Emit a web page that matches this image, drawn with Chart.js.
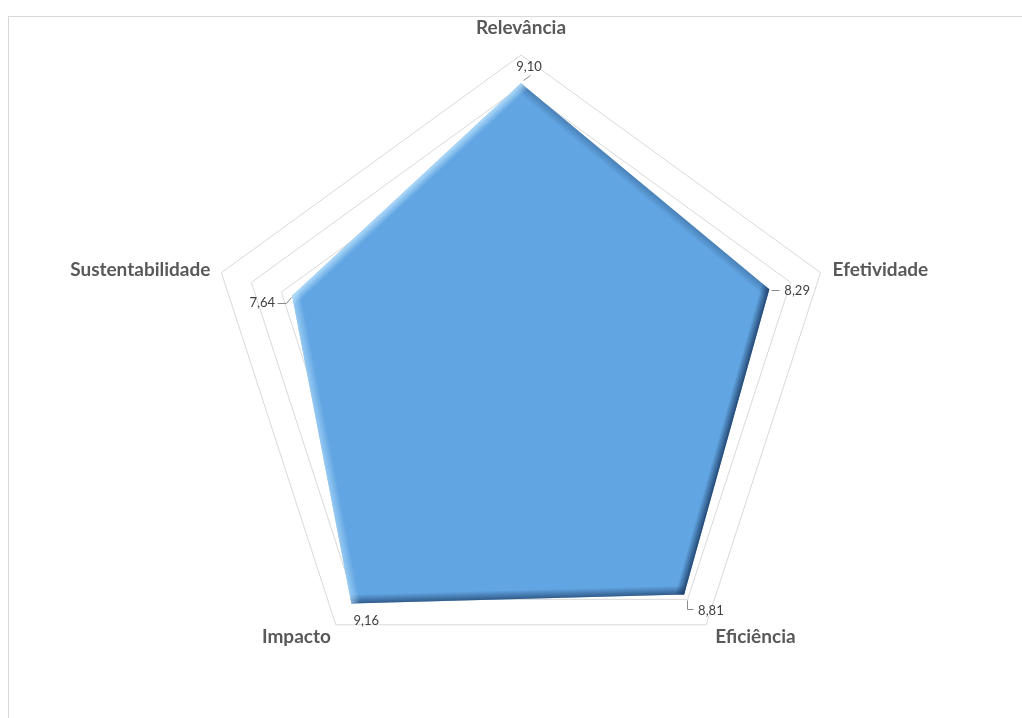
<!DOCTYPE html>
<html>
<head>
<meta charset="utf-8">
<script src="https://cdn.jsdelivr.net/npm/chart.js@4.4.1/dist/chart.umd.min.js"></script>
<style>
  html, body { margin: 0; padding: 0; background: #ffffff; }
  #wrap { position: relative; width: 1022px; height: 718px; overflow: hidden; }
  #frame { position: absolute; left: 8px; top: 16px; width: 1100px; height: 800px;
           border-left: 1px solid #d9d9d9; border-top: 1px solid #d9d9d9; }
  canvas { position: absolute; left: 0; top: 0; }
</style>
</head>
<body>
<div id="wrap">
  <div id="frame"></div>
  <canvas id="c" width="1022" height="718"></canvas>
</div>
<script>
// ---- data ----
const categories = ["Relevância", "Efetividade", "Eficiência", "Impacto", "Sustentabilidade"];
const scores = [9.10, 8.29, 8.81, 9.16, 7.64];
const scoreLabels = ["9,10", "8,29", "8,81", "9,16", "7,64"];
const scaleMin = 0;
const scaleMax = 10;
const scaleStep = 1;

// ---- styling (positions of texts relative to the scale's points) ----
const catLabelStyle = [
  { dx: 0,   dy: -27, align: "center" },
  { dx: 12,  dy: -3,  align: "left" },
  { dx: 9,   dy: 12,  align: "left" },
  { dx: -5,  dy: 12,  align: "right" },
  { dx: -11, dy: -3,  align: "right" }
];
const valLabelStyle = [
  { dx: 8,   dy: -17, align: "center", leader: [[2, -3], [9, -8]] },
  { dx: 15,  dy: 2,   align: "left",   leader: [[2, 1], [10, 1]] },
  { dx: 14,  dy: 16,  align: "left",   leader: [[3, 5], [3, 14], [9, 14]] },
  { dx: 2,   dy: 17,  align: "left",   leader: null },
  { dx: -17, dy: 7,   align: "right",  leader: [[-1, 1], [-6, 7], [-15, 7]] }
];

function polyPath(ctx, pts) {
  ctx.beginPath();
  pts.forEach((p, i) => i ? ctx.lineTo(p.x, p.y) : ctx.moveTo(p.x, p.y));
  ctx.closePath();
}

const labelsPlugin = {
  id: "customLabels",
  beforeDatasetDraw(chart) {
    const ctx = chart.ctx;
    ctx.save();
    ctx.shadowColor = "rgba(20,40,70,0.45)";
    ctx.shadowBlur = 6;
    ctx.shadowOffsetX = 2;
    ctx.shadowOffsetY = 2;
  },
  afterDatasetDraw(chart) {
    const ctx = chart.ctx;
    ctx.restore();
    // bevel: light from upper left
    const pts = chart.getDatasetMeta(0).data;
    const r = chart.scales.r;
    const L = { x: -0.8, y: -0.6 };
    const w = 9;
    ctx.save();
    polyPath(ctx, pts);
    ctx.clip();
    for (let i = 0; i < pts.length; i++) {
      const a = pts[i], b = pts[(i + 1) % pts.length];
      const ex = b.x - a.x, ey = b.y - a.y;
      const len = Math.hypot(ex, ey);
      let nx = ey / len, ny = -ex / len;
      const mx = (a.x + b.x) / 2, my = (a.y + b.y) / 2;
      if ((mx - r.xCenter) * nx + (my - r.yCenter) * ny < 0) { nx = -nx; ny = -ny; }
      const t = nx * L.x + ny * L.y;
      let col0, col1;
      if (t > 0.2) {
        const al = Math.min(0.9, t * 0.9);
        col0 = "rgba(185,225,252," + al + ")";
        col1 = "rgba(185,225,252,0)";
      } else {
        const al = Math.min(0.85, 0.3 + (-t) * 0.6);
        col0 = "rgba(25,55,95," + al + ")";
        col1 = "rgba(25,55,95,0)";
      }
      const g = ctx.createLinearGradient(mx, my, mx - nx * w, my - ny * w);
      g.addColorStop(0, col0);
      g.addColorStop(1, col1);
      ctx.fillStyle = g;
      const ux = ex / len, uy = ey / len;
      ctx.beginPath();
      ctx.moveTo(a.x - ux * 20 + nx * 2, a.y - uy * 20 + ny * 2);
      ctx.lineTo(b.x + ux * 20 + nx * 2, b.y + uy * 20 + ny * 2);
      ctx.lineTo(b.x + ux * 20 - nx * w, b.y + uy * 20 - ny * w);
      ctx.lineTo(a.x - ux * 20 - nx * w, a.y - uy * 20 - ny * w);
      ctx.closePath();
      ctx.fill();
    }
    ctx.restore();
  },
  afterDraw(chart) {
    const ctx = chart.ctx;
    const r = chart.scales.r;
    ctx.save();
    // category labels
    ctx.font = "bold 19px Lato";
    ctx.fillStyle = "#595959";
    ctx.textBaseline = "middle";
    categories.forEach((c, i) => {
      const p = r.getPointPositionForValue(i, scaleMax);
      const s = catLabelStyle[i];
      ctx.textAlign = s.align;
      ctx.fillText(c, p.x + s.dx, p.y + s.dy);
    });
    // value labels
    ctx.font = "13px Lato";
    ctx.fillStyle = "#404040";
    ctx.strokeStyle = "#8c8c8c";
    ctx.lineWidth = 1;
    scores.forEach((v, i) => {
      const p = r.getPointPositionForValue(i, v);
      const s = valLabelStyle[i];
      if (s.leader) {
        ctx.beginPath();
        s.leader.forEach((q, k) => {
          const x = Math.round(p.x + q[0]) + 0.5, y = Math.round(p.y + q[1]) + 0.5;
          k ? ctx.lineTo(x, y) : ctx.moveTo(x, y);
        });
        ctx.stroke();
      }
      ctx.textAlign = s.align;
      ctx.fillText(scoreLabels[i], p.x + s.dx, p.y + s.dy);
    });
    ctx.restore();
  }
};

new Chart(document.getElementById("c"), {
  type: "radar",
  data: {
    labels: categories,
    datasets: [{
      data: scores,
      backgroundColor: "#61a5e2",
      borderWidth: 0,
      borderColor: "rgba(0,0,0,0)",
      fill: true,
      pointRadius: 0,
      pointHoverRadius: 0
    }]
  },
  options: {
    responsive: false,
    animation: false,
    events: [],
    layout: { padding: { left: 205, right: 185, top: 55, bottom: 32 } },
    plugins: { legend: { display: false }, tooltip: { enabled: false } },
    scales: {
      r: {
        min: scaleMin,
        max: scaleMax,
        ticks: { display: false, stepSize: scaleStep },
        angleLines: { display: false },
        grid: { color: "#d9d9d9", lineWidth: 1 },
        pointLabels: { display: false }
      }
    }
  },
  plugins: [labelsPlugin]
});
</script>
</body>
</html>
